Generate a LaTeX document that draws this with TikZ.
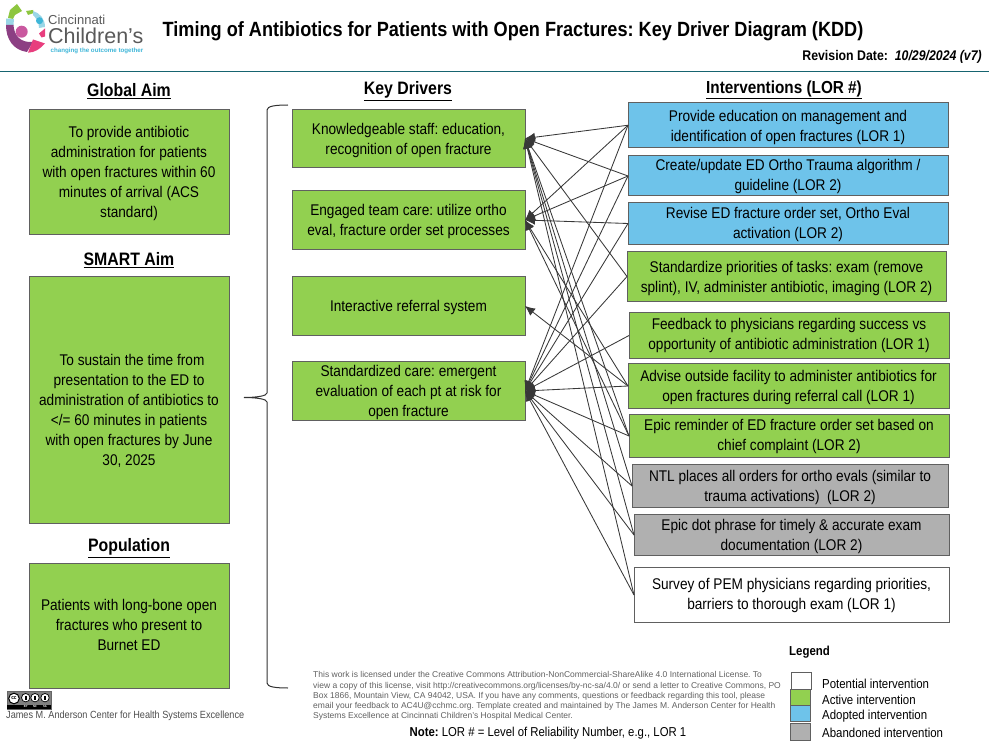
\documentclass[tikz,border=0pt]{standalone}
\usepackage{fontspec}
\setmainfont[FakeStretch=0.88]{Liberation Sans}
\newfontfamily\plainf{Liberation Sans}
\frenchspacing
\usetikzlibrary{arrows.meta}
\definecolor{gr}{HTML}{92D050}
\definecolor{bl}{HTML}{6EC3EA}
\definecolor{gy}{HTML}{B0B0B0}
\definecolor{bd}{HTML}{606060}
\definecolor{teal1}{HTML}{1F8FA0}
\definecolor{lgreen}{HTML}{8DC63F}
\definecolor{lsky}{HTML}{9AD6E6}
\definecolor{lcyan}{HTML}{3FB6D8}
\definecolor{lpurple}{HTML}{8C3F83}
\definecolor{lmag}{HTML}{C9589F}
\definecolor{lpink}{HTML}{E83E7E}
\tikzset{
 box/.style={draw=bd,line width=1pt,anchor=north west,inner sep=0,outer sep=0,yshift=-0.5pt,font=\fontsize{15.5}{20}\selectfont},
 gbox/.style={box,fill=gr},
 bbox/.style={box,fill=bl},
 ybox/.style={box,fill=gy},
 wbox/.style={box,fill=white},
 head/.style={font=\fontsize{18}{20}\selectfont\bfseries,inner sep=0},
 link/.style={draw=black!78,line width=0.85pt,-{Latex[length=10pt,width=9pt]}},
 legbox/.style={draw=bd,line width=1pt,anchor=north west,inner sep=0,outer sep=0,minimum width=20pt},
 leglab/.style={anchor=west,inner sep=0,font=\fontsize{13}{14}\selectfont},
}
\newcommand{\bx}[7][-2pt]{\node[#2,minimum width=#5pt,minimum height=#6pt] (#3) at #4 {\raisebox{\dimexpr#1-3.4pt\relax}[0pt][0pt]{\begin{tabular}{@{}c@{}}#7\end{tabular}}};}
\begin{document}
\begin{tikzpicture}[x=1pt,y=-1pt]
\useasboundingbox (0,0) rectangle (989,741);
% logo
\fill[lgreen] (8,18) -- (10,10) -- (17,4) -- (22,11) -- (15,15) -- (13,19) -- cycle;
\fill[lgreen] (26,11) -- (33,10) -- (34,13) -- (28,15) -- cycle;
\fill[lsky] (33,11) .. controls (40,13) and (45,19) .. (45,27) -- (39,28) .. controls (39,22) and (36,18) .. (33,15) -- cycle;
\fill[lcyan] (39.5,20.7) circle (3.5);
\fill[lsky] (6,18.5) -- (14,19) -- (13.5,25) -- (6,25) -- cycle;
\fill[lpurple] (6,25) -- (13.5,25) .. controls (14,35) and (20,43) .. (33,42) -- (27,52) .. controls (13,50) and (6,39) .. (6,25) -- cycle;
\fill[lmag] (21.7,31.7) circle (6);
\fill[lpink] (33,39.5) -- (45,43.5) .. controls (40,49) and (35,52.5) .. (28,52.7) -- cycle;
\fill[lpink] (39,33.5) -- (45,28.5) -- (45,36.5) -- (41.5,37.5) -- cycle;
\node[anchor=west,inner sep=0,text=black!65,font=\plainf\fontsize{13}{14}\selectfont] (lg1) at (48,19.5) {Cincinnati};
\node[anchor=base west,inner sep=0,text=black!65,font=\plainf\fontsize{21.5}{22}\selectfont] (lg2) at (48,43.5) {Children’s};
\node[anchor=base west,inner sep=0,text=lcyan,font=\plainf\bfseries\fontsize{6.2}{6.2}\selectfont] (lg3) at (50.5,52.5) {changing the outcome together};
% title
\node[inner sep=0,font=\fontsize{20.6}{24}\selectfont\bfseries] (title) at (513,31) {Timing of Antibiotics for Patients with Open Fractures: Key Driver Diagram (KDD)};
\node[anchor=east,inner sep=0,font=\fontsize{14}{15}\selectfont\bfseries] (rev) at (982,57) {Revision Date:\ \ \textit{10/29/2024 (v7)}};
\draw[teal1!70!black,line width=0.8pt] (0,71) -- (989,71);
% headings
\node[head] (h1) at (129,91) {\underline{Global Aim}};
\node[head] (h2) at (129,260) {\underline{SMART Aim}};
\node[head] (h3) at (129,548) {\underline{Population}};
\node[head] (h4) at (408,91) {\underline{Key Drivers}};
\node[head,font=\fontsize{17.4}{20}\selectfont\bfseries] (h5) at (784,90) {\underline{Interventions (LOR \#)}};
% left boxes
\bx{gbox}{a1}{(29,109)}{200}{125}{To provide antibiotic\\administration for patients\\with open fractures within 60\\minutes of arrival (ACS\\standard)}
\bx{gbox}{a2}{(29,276)}{200}{247}{\\\hspace*{6pt}To sustain the time from\\presentation to the ED to\\administration of antibiotics to\\</= 60 minutes in patients\\with open fractures by June\\30, 2025}
\bx[-1pt]{gbox}{a3}{(29,563)}{200}{125}{Patients with long-bone open\\fractures who present to\\Burnet ED}
% brace
\coordinate (bt) at (288,105);
\coordinate (bm) at (244,397.5);
\coordinate (bb) at (288,688);
\draw[black!80,line width=1pt] (bt) .. controls (276,105) and (267,106) .. (267,110) -- (267,393) .. controls (267,396) and (256,397.5) .. (bm) .. controls (256,397.5) and (267,399) .. (267,402) -- (267,683) .. controls (267,687) and (276,688) .. (bb);
% drivers
\bx{gbox}{d1}{(292,109)}{233}{58}{Knowledgeable staff: education,\\recognition of open fracture}
\bx{gbox}{d2}{(292,190)}{233}{59}{Engaged team care: utilize ortho\\eval, fracture order set processes}
\bx{gbox}{d3}{(292,276)}{233}{59}{Interactive referral system}
\bx{gbox}{d4}{(292,361)}{233}{59}{Standardized care: emergent\\evaluation of each pt at risk for\\open fracture}
% interventions
\bx{bbox}{i1}{(628,102)}{320}{45.5}{Provide education on management and\\identification of open fractures (LOR 1)}
\bx[-1pt]{bbox}{i2}{(628,155.5)}{320}{40}{Create/update ED Ortho Trauma algorithm /\\guideline (LOR 2)}
\bx[-1pt]{bbox}{i3}{(628,202)}{320}{42}{Revise ED fracture order set, Ortho Eval\\activation (LOR 2)}
\bx{gbox}{i4}{(627,251)}{319}{50}{Standardize priorities of tasks: exam (remove\\splint), IV, administer antibiotic, imaging (LOR 2)}
\bx[0pt]{gbox}{i5}{(629,312)}{320}{46}{Feedback to physicians regarding success vs\\opportunity of antibiotic administration (LOR 1)}
\bx{gbox}{i6}{(628,363)}{321}{45}{Advise outside facility to administer antibiotics for\\open fractures during referral call (LOR 1)}
\bx[-1pt]{gbox}{i7}{(629,414)}{320}{43}{Epic reminder of ED fracture order set based on\\chief complaint (LOR 2)}
\bx{ybox}{i8}{(632,464)}{316}{43}{NTL places all orders for ortho evals (similar to\\trauma activations)\ \ (LOR 2)}
\bx{ybox}{i9}{(634,514)}{315}{41}{Epic dot phrase for timely \& accurate exam\\documentation (LOR 2)}
\bx[-1pt]{wbox}{i10}{(634,567)}{315}{55}{Survey of PEM physicians regarding priorities,\\barriers to thorough exam (LOR 1)}
% connectors
\foreach \s in {i1,i2,i4,i7,i8,i9,i10} \draw[link] (\s.west) -- (d1.east);
\foreach \s in {i1,i2,i3,i6,i7} \draw[link] (\s.west) -- (d2.east);
\draw[link] (i6.west) -- (d3.east);
\foreach \s in {i1,i2,i3,i4,i5,i6,i7,i8,i9,i10} \draw[link] (\s.west) -- (d4.east);
% cc badge
\node[draw=black!60,fill=black!50,anchor=north west,inner sep=0,minimum width=44pt,minimum height=18pt] (cc) at (7,691) {};
\fill[black] (7,704.5) rectangle (51,709);
\draw[fill=white,line width=1pt] (14,698.5) circle (5.3);
\draw[fill=white,line width=.7pt] (25.7,697.7) circle (4.2);
\draw[fill=white,line width=.7pt] (35,697.7) circle (4.2);
\draw[fill=white,line width=.7pt] (45,697.7) circle (4.2);
\fill[black] (24.7,696) rectangle (26.7,700);
\fill[black] (34,696) rectangle (36,699.5);
\fill[black] (44,696) rectangle (46,699.5);
\node[inner sep=0,font=\fontsize{5.5}{5}\selectfont\bfseries] (cct) at (14,698.3) {cc};
\node[inner sep=0,text=white,font=\fontsize{3}{3}\selectfont\bfseries] (ccby) at (25.7,706.8) {BY};
\node[inner sep=0,text=white,font=\fontsize{3}{3}\selectfont\bfseries] (ccnc) at (35,706.8) {NC};
\node[inner sep=0,text=white,font=\fontsize{3}{3}\selectfont\bfseries] (ccsa) at (45,706.8) {SA};
\node[anchor=west,inner sep=0,text=black!70,font=\fontsize{10.4}{13}\selectfont] (jm) at (6,716) {James M. Anderson Center for Health Systems Excellence};
% license
\node[anchor=north west,inner sep=0,align=left,text=bd,font=\plainf\fontsize{8.5}{10.2}\selectfont] (lic) at (313,671.5) {This work is licensed under the Creative Commons Attribution-NonCommercial-ShareAlike 4.0 International License. To\\view a copy of this license, visit http://creativecommons.org/licenses/by-nc-sa/4.0/ or send a letter to Creative Commons, PO\\Box 1866, Mountain View, CA 94042, USA. If you have any comments, questions or feedback regarding this tool, please\\email your feedback to AC4U@cchmc.org. Template created and maintained by The James M. Anderson Center for Health\\Systems Excellence at Cincinnati Children’s Hospital Medical Center.};
\node[inner sep=0,font=\fontsize{12.9}{15}\selectfont] (note) at (548,733) {\textbf{Note:} LOR \# = Level of Reliability Number, e.g., LOR 1};
% legend
\node[anchor=west,inner sep=0,font=\fontsize{13}{15}\selectfont\bfseries] (leg) at (789,652.5) {Legend};
\node[legbox,fill=white,minimum height=17pt] (l1) at (791.5,672) {};
\node[legbox,fill=gr,minimum height=16pt] (l2) at (790.5,689) {};
\node[legbox,fill=bl,minimum height=16pt] (l3) at (790.5,705.5) {};
\node[legbox,fill=gy,minimum height=17pt] (l4) at (790.5,723) {};
\node[leglab] (t1) at (822,683.5) {Potential intervention};
\node[leglab] (t2) at (822,699.5) {Active intervention};
\node[leglab] (t3) at (822,716.5) {Adopted intervention};
\node[leglab] (t4) at (822,733) {Abandoned intervention};
\end{tikzpicture}
\end{document}
